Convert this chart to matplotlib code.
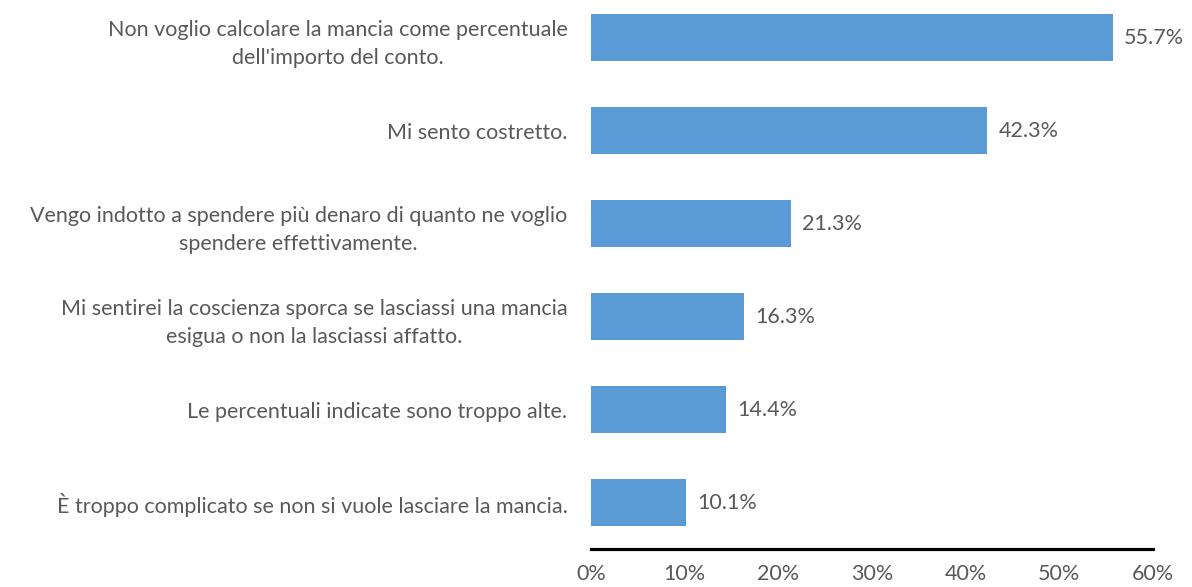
import matplotlib.pyplot as plt
import numpy as np

# survey answers, top to bottom
labels = [
    "Non voglio calcolare la mancia come percentuale\ndell'importo del conto.",
    "Mi sento costretto.",
    "Vengo indotto a spendere più denaro di quanto ne voglio\nspendere effettivamente.",
    "Mi sentirei la coscienza sporca se lasciassi una mancia\nesigua o non la lasciassi affatto.",
    "Le percentuali indicate sono troppo alte.",
    "È troppo complicato se non si vuole lasciare la mancia.",
]
values = [55.7, 42.3, 21.3, 16.3, 14.4, 10.1]
xticks = [0, 10, 20, 30, 40, 50, 60]

plt.rcParams['font.family'] = ['Lato', 'DejaVu Sans']
textColor = '#595959'
fs = 15.5

fig = plt.figure(figsize=(11.92, 5.87), dpi=100)
ax = fig.add_axes([0.4958, 0.0647, 0.4715, 0.9506])

y = np.arange(len(values))
ax.barh(y, values, height=0.5, color='#5B9BD5')
ax.set_ylim(len(values) - 0.5, -0.5)
ax.set_xlim(0, 60)

for yi, v in zip(y, values):
    ax.text(v + 1.2, yi, f"{v:.1f}%", va='center', ha='left', fontsize=fs, color=textColor)

ax.set_yticks(y)
ax.set_yticklabels(labels, fontsize=fs, color=textColor, multialignment='center', linespacing=1.5)
ax.tick_params(axis='y', length=0, pad=17)

ax.set_xticks(xticks)
ax.set_xticklabels([f"{t}%" for t in xticks], fontsize=fs, color=textColor)
ax.tick_params(axis='x', length=0, pad=11)

for side in ['top', 'right', 'left']:
    ax.spines[side].set_visible(False)
ax.spines['bottom'].set_linewidth(2.3)
ax.spines['bottom'].set_color('black')

fig.savefig('out.png', dpi=100)
